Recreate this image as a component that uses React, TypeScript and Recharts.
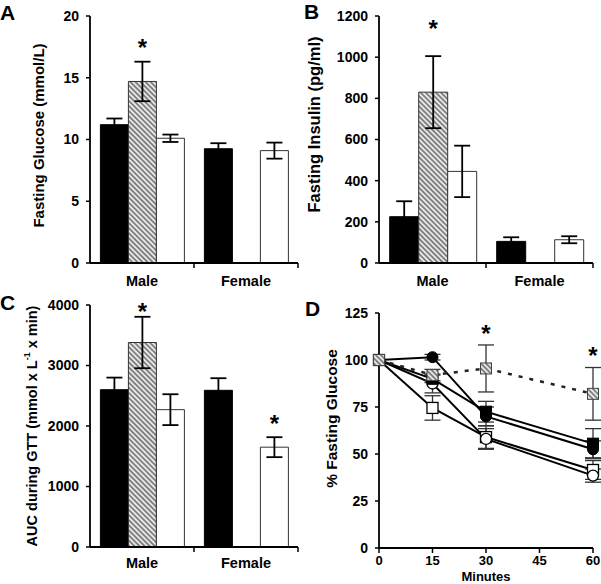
import React from 'react';
import { BarChart, Bar, XAxis, YAxis, ErrorBar, LineChart, Line, ReferenceDot } from 'recharts';

type Num = number | null;

const FONT = "'Liberation Sans', Arial, Helvetica, sans-serif";

// ---------- shared categories ----------
const categories = ['Male', 'Female'];

// ---------- Panel A: Fasting glucose ----------
const glucoseBlack: Num[] = [11.2, 9.25];
const glucoseBlackErr: Num[] = [0.5, 0.45];
const glucoseHatched: Num[] = [14.7, null];
const glucoseHatchedErr: Num[] = [1.6, null];
const glucoseWhite: Num[] = [10.1, 9.1];
const glucoseWhiteErr: Num[] = [0.3, 0.65];
const glucoseStarHatched: Num[] = [17.7, null];
const glucoseStarWhite: Num[] = [null, null];
const glucoseTicks = [0, 5, 10, 15, 20];

// ---------- Panel B: Fasting insulin ----------
const insulinBlack: Num[] = [225, 105];
const insulinBlackErr: Num[] = [75, 20];
const insulinHatched: Num[] = [830, null];
const insulinHatchedErr: Num[] = [175, null];
const insulinWhite: Num[] = [445, 113];
const insulinWhiteErr: Num[] = [125, 17];
const insulinStarHatched: Num[] = [1156, null];
const insulinStarWhite: Num[] = [null, null];
const insulinTicks = [0, 200, 400, 600, 800, 1000, 1200];

// ---------- Panel C: AUC ----------
const aucBlack: Num[] = [2600, 2590];
const aucBlackErr: Num[] = [200, 200];
const aucHatched: Num[] = [3380, null];
const aucHatchedErr: Num[] = [425, null];
const aucWhite: Num[] = [2270, 1650];
const aucWhiteErr: Num[] = [255, 165];
const aucStarHatched: Num[] = [3950, null];
const aucStarWhite: Num[] = [null, 2100];
const aucTicks = [0, 1000, 2000, 3000, 4000];

// ---------- Panel D: GTT time course ----------
const minutes = [0, 15, 30, 60];
const blackCircle = [100, 101.5, 70, 52.5];
const blackCircleErr = [0, 1.5, 5, 4.5];
const blackSquare = [100, 90, 72.5, 55.5];
const blackSquareErr = [0, 2, 5.5, 8];
const hatchedSquare = [100, 92, 95.5, 82];
const hatchedSquareErr = [0, 3, 12.5, 14];
const whiteCircle = [100, 87.5, 58, 38.5];
const whiteCircleErr = [0, 5, 5.5, 3.5];
const whiteSquare = [100, 74.5, 59, 41.5];
const whiteSquareErr = [0, 6.5, 6, 5];
const minuteTicks = [0, 15, 30, 45, 60];
const pctTicks = [0, 25, 50, 75, 100, 125];
const starMinutes = [30, 60];
const starPct = [116, 104];

// ---------- helpers ----------
const Hatch = ({ id }: { id: string }) => (
  <defs>
    <pattern id={id} patternUnits="userSpaceOnUse" width={3.6} height={3.6} patternTransform="rotate(45)">
      <rect x={0} y={0} width={3.6} height={3.6} fill="#e8e8e8" />
      <line x1={0} y1={1.8} x2={3.6} y2={1.8} stroke="#4a4a4a" strokeWidth={1.2} />
    </pattern>
  </defs>
);

const starBarLabel = (bars: Num[], stars: Num[]) => (props: any) => {
  const { x, y, width, height, index } = props;
  const s = stars[index];
  const v = bars[index];
  if (s == null || v == null || !height) return null;
  const cy = y - ((s - v) * height) / v;
  return (
    <text key={`star-${index}`} x={x + width / 2} y={cy + 12} textAnchor="middle" fontSize={24} fontWeight="bold" fontFamily={FONT} fill="#000">
      *
    </text>
  );
};

const yLabelContent = (content: React.ReactNode, cx: number, dy: number, size: number) => (props: any) => {
  const vb = props.viewBox || { x: 0, y: 0, width: 0, height: 0 };
  const cy = vb.y + vb.height / 2 + dy;
  return (
    <text x={cx} y={cy} transform={`rotate(-90 ${cx} ${cy})`} textAnchor="middle" dominantBaseline="central" fontSize={size} fontWeight="bold" fontFamily={FONT} fill="#000">
      {content}
    </text>
  );
};

const tickStyle = { fontSize: 14, fontWeight: 'bold', fill: '#000', fontFamily: FONT } as any;

type BarPanelProps = {
  left: number;
  top: number;
  width: number;
  height: number;
  mTop: number;
  mRight: number;
  yWidth: number;
  xHeight: number;
  ymax: number;
  ticks: number[];
  black: Num[];
  blackErr: Num[];
  hatched: Num[];
  hatchedErr: Num[];
  white: Num[];
  whiteErr: Num[];
  starHatched: Num[];
  starWhite: Num[];
  patternId: string;
  yLabel: React.ReactNode;
  yLabelX: number;
  yLabelDy: number;
  yLabelSize: number;
  catDy: number;
};

function BarPanel(p: BarPanelProps) {
  const data = categories.map((c, i) => ({
    cat: c,
    black: p.black[i],
    blackErr: p.blackErr[i],
    hatched: p.hatched[i],
    hatchedErr: p.hatchedErr[i],
    white: p.white[i],
    whiteErr: p.whiteErr[i],
  }));
  const plotW = p.width - p.mRight - p.yWidth;
  const bandHalf = plotW / categories.length / 2;
  const CatTick = (t: any) => (
    <g>
      <line x1={t.x + bandHalf} x2={t.x + bandHalf} y1={t.y} y2={t.y + 5} stroke="#000" strokeWidth={1.5} />
      <text x={t.x} y={t.y + p.catDy} textAnchor="middle" fontSize={14.5} fontWeight="bold" fontFamily={FONT} fill="#000">
        {t.payload.value}
      </text>
    </g>
  );
  return (
    <div style={{ position: 'absolute', left: p.left, top: p.top }}>
      <BarChart
        width={p.width}
        height={p.height}
        data={data}
        margin={{ top: p.mTop, right: p.mRight, bottom: 0, left: 0 }}
        barCategoryGap="10%"
        barGap={0}
      >
        <Hatch id={p.patternId} />
        <XAxis
          dataKey="cat"
          height={p.xHeight}
          tickSize={0}
          tickMargin={0}
          tickLine={false}
          interval={0}
          axisLine={{ stroke: '#000', strokeWidth: 1.8 }}
          tick={CatTick}
        />
        <YAxis
          width={p.yWidth}
          domain={[0, p.ymax]}
          ticks={p.ticks}
          interval={0}
          tickSize={4}
          tickMargin={7}
          axisLine={{ stroke: '#000', strokeWidth: 1.8 }}
          tickLine={{ stroke: '#000', strokeWidth: 1.5 }}
          tick={tickStyle}
          label={yLabelContent(p.yLabel, p.yLabelX, p.yLabelDy, p.yLabelSize)}
        />
        <Bar dataKey="black" fill="#000" stroke="#000" strokeWidth={1} isAnimationActive={false}>
          <ErrorBar dataKey="blackErr" width={8} stroke="#000" strokeWidth={1.8} />
        </Bar>
        <Bar
          dataKey="hatched"
          fill={`url(#${p.patternId})`}
          stroke="#333"
          strokeWidth={1}
          isAnimationActive={false}
          label={starBarLabel(p.hatched, p.starHatched)}
        >
          <ErrorBar dataKey="hatchedErr" width={8} stroke="#000" strokeWidth={1.8} />
        </Bar>
        <Bar
          dataKey="white"
          fill="#fff"
          stroke="#333"
          strokeWidth={1}
          isAnimationActive={false}
          label={starBarLabel(p.white, p.starWhite)}
        >
          <ErrorBar dataKey="whiteErr" width={8} stroke="#000" strokeWidth={1.8} />
        </Bar>
      </BarChart>
    </div>
  );
}

const makeDot = (kind: string, patternId: string) => (props: any) => {
  const { cx, cy, index } = props;
  const key = `${kind}-${index}`;
  if (cx == null || cy == null) return <g key={key} />;
  const s = 5.5;
  switch (kind) {
    case 'bc':
      return <circle key={key} cx={cx} cy={cy} r={s} fill="#000" stroke="#000" strokeWidth={1} />;
    case 'wc':
      return <circle key={key} cx={cx} cy={cy} r={s} fill="#fff" stroke="#000" strokeWidth={1.3} />;
    case 'bs':
      return <rect key={key} x={cx - s} y={cy - s} width={2 * s} height={2 * s} fill="#000" stroke="#000" strokeWidth={1} />;
    case 'ws':
      return <rect key={key} x={cx - s} y={cy - s} width={2 * s} height={2 * s} fill="#fff" stroke="#000" strokeWidth={1.3} />;
    default:
      return <rect key={key} x={cx - s} y={cy - s} width={2 * s} height={2 * s} fill={`url(#${patternId})`} stroke="#444" strokeWidth={1} />;
  }
};

function LinePanel() {
  const data = minutes.map((m, i) => ({
    m,
    bc: blackCircle[i],
    bcE: blackCircleErr[i],
    bs: blackSquare[i],
    bsE: blackSquareErr[i],
    hs: hatchedSquare[i],
    hsE: hatchedSquareErr[i],
    wc: whiteCircle[i],
    wcE: whiteCircleErr[i],
    ws: whiteSquare[i],
    wsE: whiteSquareErr[i],
  }));
  const pid = 'hatchD';
  const errProps = { width: 8, stroke: '#333', strokeWidth: 1.3 };
  const MinutesLabel = (props: any) => {
    const vb = props.viewBox || { x: 0, y: 0, width: 0, height: 0 };
    return (
      <text x={vb.x + vb.width / 2} y={vb.y + vb.height - 3} textAnchor="middle" fontSize={13} fontWeight="bold" fontFamily={FONT} fill="#000">
        Minutes
      </text>
    );
  };
  return (
    <div style={{ position: 'absolute', left: 300, top: 292 }}>
      <LineChart width={301} height={292} data={data} margin={{ top: 21, right: 8, bottom: 0, left: 0 }}>
        <Hatch id={pid} />
        <XAxis
          dataKey="m"
          type="number"
          domain={[0, 60]}
          ticks={minuteTicks}
          interval={0}
          height={36}
          tickSize={5}
          tickMargin={3}
          axisLine={{ stroke: '#000', strokeWidth: 1.8 }}
          tickLine={{ stroke: '#000', strokeWidth: 1.5 }}
          tick={{ ...tickStyle, fontSize: 13 }}
          label={MinutesLabel}
        />
        <YAxis
          width={79}
          domain={[0, 125]}
          ticks={pctTicks}
          interval={0}
          tickSize={4}
          tickMargin={7}
          axisLine={{ stroke: '#000', strokeWidth: 1.8 }}
          tickLine={{ stroke: '#000', strokeWidth: 1.5 }}
          tick={tickStyle}
          label={yLabelContent('% Fasting Glucose', 31, -12, 15.5)}
        />
        <Line dataKey="ws" stroke="#000" strokeWidth={2} dot={makeDot('ws', pid)} activeDot={false} isAnimationActive={false}>
          <ErrorBar dataKey="wsE" {...errProps} />
        </Line>
        <Line dataKey="wc" stroke="#000" strokeWidth={2} dot={makeDot('wc', pid)} activeDot={false} isAnimationActive={false}>
          <ErrorBar dataKey="wcE" {...errProps} />
        </Line>
        <Line dataKey="bc" stroke="#000" strokeWidth={2} dot={makeDot('bc', pid)} activeDot={false} isAnimationActive={false}>
          <ErrorBar dataKey="bcE" {...errProps} />
        </Line>
        <Line dataKey="bs" stroke="#000" strokeWidth={2} dot={makeDot('bs', pid)} activeDot={false} isAnimationActive={false}>
          <ErrorBar dataKey="bsE" {...errProps} />
        </Line>
        <Line
          dataKey="hs"
          stroke="#222"
          strokeWidth={2.5}
          strokeDasharray="4 7"
          dot={makeDot('hs', pid)}
          activeDot={false}
          isAnimationActive={false}
        >
          <ErrorBar dataKey="hsE" {...errProps} />
        </Line>
        {starMinutes.map((m, i) => (
          <ReferenceDot
            key={`sd-${i}`}
            x={m}
            y={starPct[i]}
            r={0}
            shape={(sp: any) => (
              <text x={sp.cx} y={sp.cy + 12} textAnchor="middle" fontSize={24} fontWeight="bold" fontFamily={FONT} fill="#000">
                *
              </text>
            )}
          />
        ))}
      </LineChart>
    </div>
  );
}

const PanelLetter = ({ text, left, top }: { text: string; left: number; top: number }) => (
  <div style={{ position: 'absolute', left, top, fontFamily: FONT, fontWeight: 'bold', fontSize: 21, lineHeight: '21px', color: '#000' }}>
    {text}
  </div>
);

export default function App() {
  const aucLabel = (
    <>
      AUC during GTT (mmol x L
      <tspan dy={-5} fontSize={9}>
        -1
      </tspan>
      <tspan dy={5}> x min)</tspan>
    </>
  );
  return (
    <div style={{ position: 'absolute', left: 0, top: 0, width: 601, height: 584, background: '#fff', overflow: 'hidden' }}>
      <BarPanel
        left={0}
        top={0}
        width={300}
        height={292}
        mTop={16}
        mRight={2}
        yWidth={90}
        xHeight={29}
        ymax={20}
        ticks={glucoseTicks}
        black={glucoseBlack}
        blackErr={glucoseBlackErr}
        hatched={glucoseHatched}
        hatchedErr={glucoseHatchedErr}
        white={glucoseWhite}
        whiteErr={glucoseWhiteErr}
        starHatched={glucoseStarHatched}
        starWhite={glucoseStarWhite}
        patternId="hatchA"
        yLabel="Fasting Glucose (mmol/L)"
        yLabelX={38}
        yLabelDy={-4}
        yLabelSize={15}
        catDy={23}
      />
      <BarPanel
        left={300}
        top={0}
        width={301}
        height={292}
        mTop={16}
        mRight={8}
        yWidth={79}
        xHeight={29}
        ymax={1200}
        ticks={insulinTicks}
        black={insulinBlack}
        blackErr={insulinBlackErr}
        hatched={insulinHatched}
        hatchedErr={insulinHatchedErr}
        white={insulinWhite}
        whiteErr={insulinWhiteErr}
        starHatched={insulinStarHatched}
        starWhite={insulinStarWhite}
        patternId="hatchB"
        yLabel="Fasting Insulin (pg/ml)"
        yLabelX={14}
        yLabelDy={-15}
        yLabelSize={16.5}
        catDy={23}
      />
      <BarPanel
        left={0}
        top={292}
        width={300}
        height={292}
        mTop={13}
        mRight={2}
        yWidth={90}
        xHeight={37}
        ymax={4000}
        ticks={aucTicks}
        black={aucBlack}
        blackErr={aucBlackErr}
        hatched={aucHatched}
        hatchedErr={aucHatchedErr}
        white={aucWhite}
        whiteErr={aucWhiteErr}
        starHatched={aucStarHatched}
        starWhite={aucStarWhite}
        patternId="hatchC"
        yLabel={aucLabel}
        yLabelX={32}
        yLabelDy={0}
        yLabelSize={14.5}
        catDy={21}
      />
      <LinePanel />
      <PanelLetter text="A" left={0} top={2} />
      <PanelLetter text="B" left={304} top={1} />
      <PanelLetter text="C" left={0} top={292} />
      <PanelLetter text="D" left={305} top={298} />
    </div>
  );
}
